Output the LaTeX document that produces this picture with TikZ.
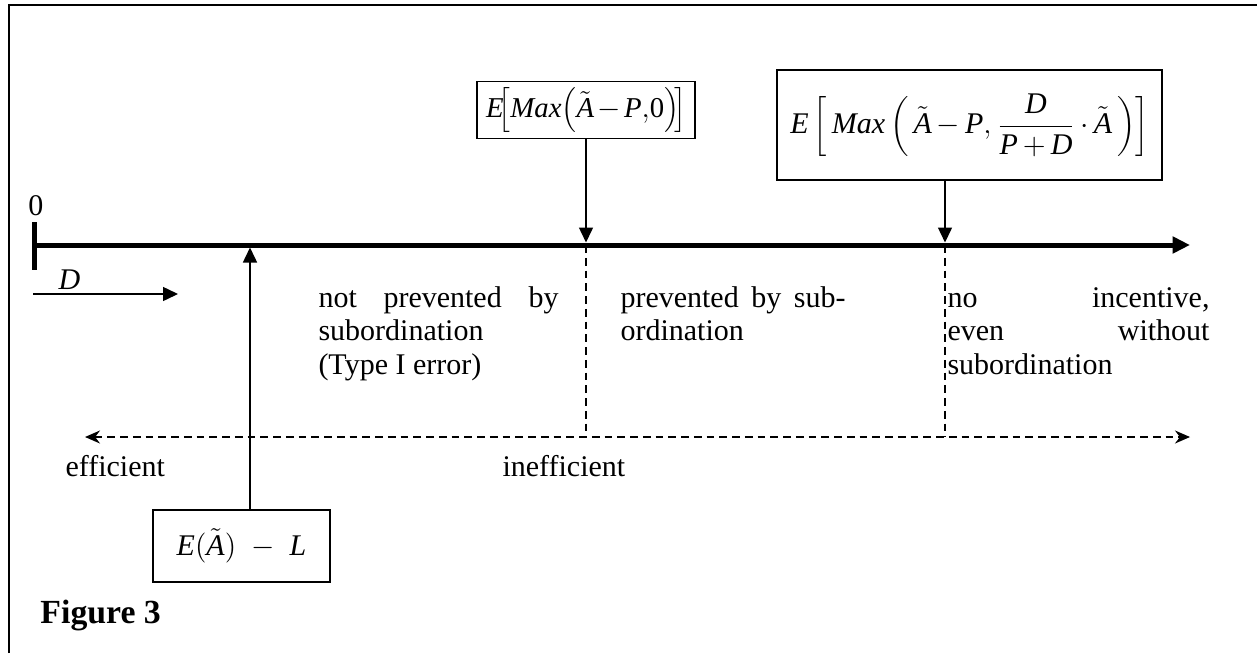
\documentclass[tikz,border=0pt]{standalone}
\usepackage{fontspec}
\setmainfont{Liberation Serif}
\usetikzlibrary{arrows.meta}
\newcommand\itx[1]{\textit{#1}}
\begin{document}
\begin{tikzpicture}[x=0.4pt,y=-0.4pt,
  every node/.style={font=\fontsize{12}{13.4}\selectfont},
  mathfont/.style={font=\fontsize{12}{14}\selectfont},
  fbox/.style={draw,line width=0.65pt,inner sep=0pt,mathfont},
  thinline/.style={line width=0.6pt},
  arr/.style={thinline,-{Triangle[length=6pt,width=5.6pt]}},
  dashline/.style={thinline,dash pattern=on 3.1pt off 2pt},
  dasharr/.style={dashline,{Stealth[length=6pt,width=5.2pt]}-{Stealth[length=6pt,width=5.2pt]}},
  txtblock/.style={anchor=base west,align=justify,inner sep=0pt}]
\useasboundingbox (0,0) rectangle (1257,653);
% frame
\draw[line width=0.8pt] (9,653) -- (9,5) -- (1257,5);
% axis
\coordinate (ax0) at (34,245);
\coordinate (axE) at (1190,245);
\draw[line width=2pt,-{Triangle[length=7pt,width=6.5pt]}] (ax0) -- (axE);
\draw[line width=2pt] (34,222) -- (34,270);
\node[anchor=base,inner sep=0pt] (zero) at (36,215) {0};
% D arrow
\node[anchor=base west,inner sep=0pt,mathfont] (dlab) at (58,289) {\itx{D}};
\coordinate (d0) at (33,294);
\coordinate (d1) at (178,294);
\draw[arr] (d0) -- (d1);
% boxes
\node[fbox,minimum width=218*0.4pt,minimum height=57*0.4pt,font=\fontsize{11.5}{13}\selectfont] (b1) at (586,110)
  {$\medmuskip=2mu\itx{E}\!\Bigl[\itx{Max}\Bigl(\tilde{\itx{A}}-\itx{P}{,}\mbox{0}\Bigr)\!\Bigr]$};
\node[fbox,minimum width=385*0.4pt,minimum height=110*0.4pt] (b2) at (969.5,125)
  {$\displaystyle\medmuskip=3mu\itx{E}\left[\,\itx{Max}\left(\,\tilde{\itx{A}}-\itx{P},\frac{\itx{D}}{\itx{P}+\itx{D}}\cdot\tilde{\itx{A}}\,\right)\right]$};
\node[fbox,minimum width=177*0.4pt,minimum height=72*0.4pt] (b3) at (241.5,546)
  {$\itx{E}(\tilde{\itx{A}})\;-\;\itx{L}$};
% arrows to axis
\coordinate (p1) at (586,245);
\coordinate (p2) at (945,245);
\coordinate (p3) at (250,245);
\draw[arr,shorten >=1pt] (b1.south) -- (p1);
\draw[arr,shorten >=1pt] (b2.south -| p2) -- (p2);
\draw[arr,shorten >=1pt] (b3.north -| p3) -- (p3);
% dashed lines
\coordinate (dl) at (85,437);
\coordinate (dr) at (1190,437);
\draw[dasharr] (dl) -- (dr);
\draw[dashline] (p1) -- (p1 |- dl);
\draw[dashline] (p2) -- (p2 |- dl);
% text blocks
\node[txtblock,text width=240*0.4pt] (t1) at (318,307)
  {not prevented by\linebreak subordination\newline (Type I error)};
\node[txtblock,text width=225*0.4pt] (t2) at (620,307)
  {prevented by sub-\linebreak ordination};
\node[txtblock,text width=262*0.4pt] (t3) at (947,307)
  {no incentive,\linebreak even without\linebreak subordination};
\node[anchor=base west,inner sep=0pt] (eff) at (65,476) {efficient};
\node[anchor=base west,inner sep=0pt] (ineff) at (502,476) {inefficient};
\node[anchor=base west,inner sep=0pt,font=\fontsize{13.5}{15}\selectfont\bfseries] (fig) at (40,623) {Figure 3};
\end{tikzpicture}
\end{document}
